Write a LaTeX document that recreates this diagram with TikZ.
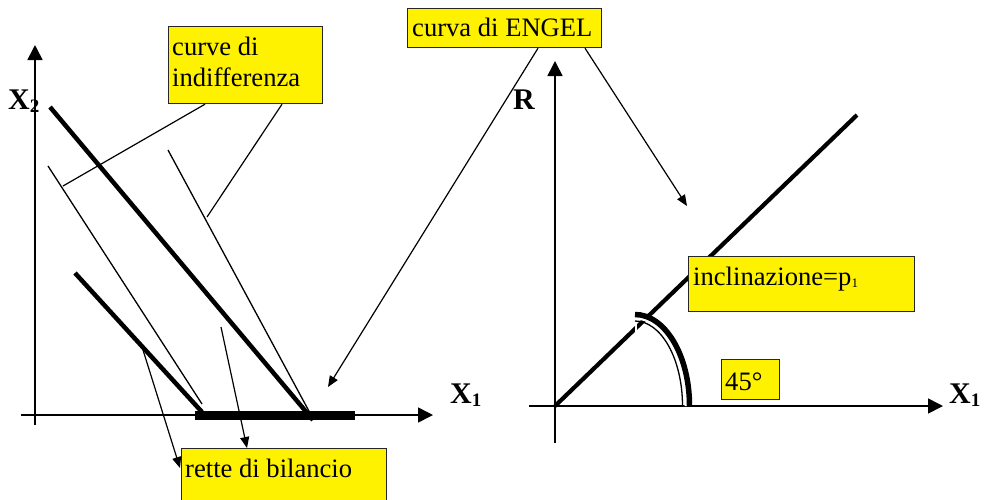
\documentclass[tikz,border=0pt]{standalone}
\usepackage{fontspec}
\setmainfont{Liberation Serif}
\usetikzlibrary{arrows.meta,calc}
\begin{document}
\begin{tikzpicture}[x=1pt,y=-1pt,
  box/.style={draw=black!85, line width=1.2pt, fill=yellow, inner sep=0pt, anchor=north west},
  txt/.style={inner sep=0pt, anchor=base west, font=\fontsize{26.6}{31}\selectfont},
  lbl/.style={inner sep=0pt, anchor=base west, font=\fontsize{30}{30}\selectfont\bfseries},
  axis/.style={line width=1.6pt, -{Triangle[length=15pt,width=15pt]}},
  thinline/.style={line width=1.3pt},
  thickline/.style={line width=4.5pt},
  conn/.style={line width=1.2pt},
  arr/.style={line width=1.2pt, -{Triangle[length=11pt,width=9pt]}}
]
\useasboundingbox (0,0) rectangle (984,499);

% ---------------- left panel ----------------
\coordinate (yb) at (35,425);
\coordinate (yt) at (35,45);
\coordinate (xl) at (21,415);
\coordinate (xr) at (433,415);
\draw[axis] (yb) -- (yt);
\draw[axis] (xl) -- (xr);

\coordinate (t1a) at (50,107);   \coordinate (t1b) at (313,420);
\coordinate (t2a) at (75,273);   \coordinate (t2b) at (202,412);
\coordinate (n1a) at (48,166);   \coordinate (n1b) at (202,404);
\coordinate (n2a) at (168,150);  \coordinate (n2b) at (310,413);
\draw[thinline] (n1a) -- (n1b);
\draw[thinline] (n2a) -- (n2b);
\draw[thickline] (t1a) -- (t1b);
\draw[thickline] (t2a) -- (t2b);
\coordinate (bara) at (195,415); \coordinate (barb) at (355,415);
\draw[line width=9pt] (bara) -- (barb);

\node[lbl] (x2) at (8,109) {X\raisebox{-3pt}{\fontsize{19}{19}\selectfont 2}};
\node[lbl] (x1l) at (450,403) {X\raisebox{-3pt}{\fontsize{19}{19}\selectfont 1}};

% curve di indifferenza
\node[box, minimum width=154pt, minimum height=77pt] (curvebox) at (168,26) {};
\node[txt] (curvet1) at (172,55) {curve di};
\node[txt] (curvet2) at (172,86) {indifferenza};
\coordinate (c1end) at (63,186);
\coordinate (c2end) at (207,217);
\draw[conn] ($(curvebox.south west)+(37,0)$) -- (c1end);
\draw[conn] ($(curvebox.south west)+(114,0)$) -- (c2end);

% rette di bilancio
\node[box, minimum width=205pt, minimum height=58pt] (rettebox) at (181,448) {};
\node[txt] (rettet) at (185,477) {rette di bilancio};
\coordinate (r1s) at (143,350);
\coordinate (r2s) at (221,327);
\draw[arr] (r1s) -- ($(rettebox.north west)+(-1,20)$);
\draw[arr] (r2s) -- ($(rettebox.north west)+(66,0)$);

% ---------------- right panel ----------------
\coordinate (rb) at (555,443);
\coordinate (rt) at (555,61);
\coordinate (xl2) at (529,406);
\coordinate (xr2) at (943,406);
\draw[axis] (rb) -- (rt);
\draw[axis] (xl2) -- (xr2);

\coordinate (o) at (555,406);
\coordinate (eend) at (857,115);
\draw[line width=4.2pt] (o) -- (eend);

% angle arc (double line)
\draw[white, line width=2.5pt] (636,317) -- (636,334);
\draw[white, line width=3pt] (686,406) arc[start angle=0, end angle=-90, x radius=51, y radius=88];
\draw[line width=5.5pt] (689.5,406) arc[start angle=0, end angle=-90, x radius=54.5, y radius=91.5];
\draw[line width=1.3pt] (682.5,406) arc[start angle=0, end angle=-90, x radius=47.5, y radius=85];

\node[lbl] (rlab) at (513,109) {R};
\node[lbl] (x1r) at (949,403) {X\raisebox{-3pt}{\fontsize{19}{19}\selectfont 1}};

% curva di ENGEL
\node[box, minimum width=194pt, minimum height=39pt] (engelbox) at (407,8) {};
\node[txt] (engelt) at (412,36) {curva di ENGEL};
\coordinate (e1tip) at (328,387);
\coordinate (e2tip) at (687,206);
\draw[arr] ($(engelbox.south west)+(131,0)$) -- (e1tip);
\draw[arr] ($(engelbox.south west)+(178,0)$) -- (e2tip);

% inclinazione
\node[box, minimum width=226pt, minimum height=55pt] (inclbox) at (688,256) {};
\node[txt] (inclt) at (693,285) {inclinazione=p\raisebox{-2pt}{\fontsize{13}{13}\selectfont 1}};

% 45
\node[box, minimum width=58pt, minimum height=40pt] (angbox) at (721,359) {};
\node[txt] (angt) at (725,390) {45°};
\end{tikzpicture}
\end{document}
